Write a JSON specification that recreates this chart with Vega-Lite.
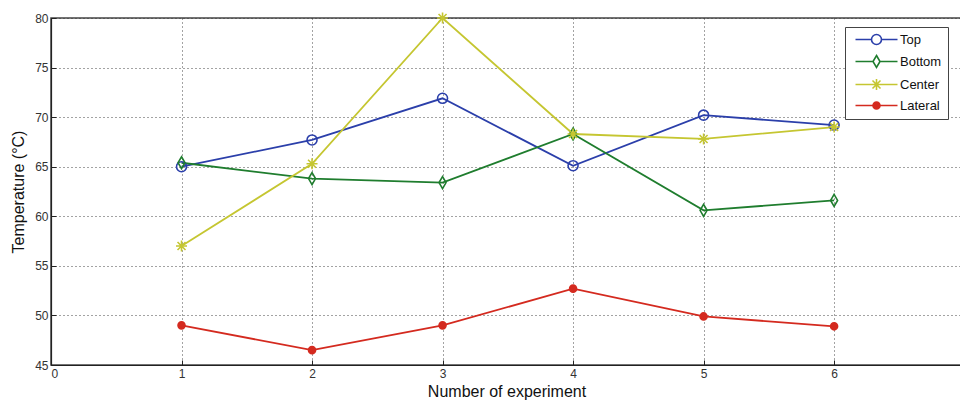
{
  "$schema": "https://vega.github.io/schema/vega-lite/v6.json",
  "autosize": "none",
  "width": 911,
  "height": 347,
  "padding": {"left": 51, "top": 18, "right": 0, "bottom": 35},
  "background": "white",
  "config": {
    "font": "Liberation Sans",
    "view": {"stroke": "#444", "strokeWidth": 1.5},
    "axis": {
      "domainColor": "#222",
      "domainWidth": 1.2,
      "tickColor": "#222",
      "tickSize": -5,
      "labelPadding": 8,
      "labelFont": "Liberation Sans",
      "labelFontSize": 12,
      "labelColor": "#333",
      "titleFont": "Liberation Sans",
      "titleFontWeight": "normal",
      "titleColor": "#111",
      "gridColor": "#333",
      "gridDash": [1, 3],
      "gridOpacity": 0.9,
      "gridWidth": 1
    }
  },
  "data": {
    "values": [
      {"exp": 1, "temp": 65.0, "series": "Top"},
      {"exp": 2, "temp": 67.7, "series": "Top"},
      {"exp": 3, "temp": 71.9, "series": "Top"},
      {"exp": 4, "temp": 65.1, "series": "Top"},
      {"exp": 5, "temp": 70.2, "series": "Top"},
      {"exp": 6, "temp": 69.2, "series": "Top"},
      {"exp": 1, "temp": 65.4, "series": "Bottom"},
      {"exp": 2, "temp": 63.8, "series": "Bottom"},
      {"exp": 3, "temp": 63.4, "series": "Bottom"},
      {"exp": 4, "temp": 68.3, "series": "Bottom"},
      {"exp": 5, "temp": 60.6, "series": "Bottom"},
      {"exp": 6, "temp": 61.6, "series": "Bottom"},
      {"exp": 1, "temp": 57.0, "series": "Center"},
      {"exp": 2, "temp": 65.3, "series": "Center"},
      {"exp": 3, "temp": 80.0, "series": "Center"},
      {"exp": 4, "temp": 68.3, "series": "Center"},
      {"exp": 5, "temp": 67.8, "series": "Center"},
      {"exp": 6, "temp": 69.0, "series": "Center"},
      {"exp": 1, "temp": 49.0, "series": "Lateral"},
      {"exp": 2, "temp": 46.5, "series": "Lateral"},
      {"exp": 3, "temp": 49.0, "series": "Lateral"},
      {"exp": 4, "temp": 52.7, "series": "Lateral"},
      {"exp": 5, "temp": 49.9, "series": "Lateral"},
      {"exp": 6, "temp": 48.9, "series": "Lateral"}
    ]
  },
  "encoding": {
    "x": {
      "field": "exp",
      "type": "quantitative",
      "scale": {"domain": [0, 6.98], "nice": false, "zero": false},
      "axis": {"values": [0, 1, 2, 3, 4, 5, 6], "title": "Number of experiment", "titleFontSize": 16, "titlePadding": 4}
    },
    "y": {
      "field": "temp",
      "type": "quantitative",
      "scale": {"domain": [45, 80], "nice": false, "zero": false},
      "axis": {"values": [45, 50, 55, 60, 65, 70, 75, 80], "title": "Temperature (°C)", "titleFontSize": 16, "titlePadding": 8}
    },
    "color": {
      "field": "series",
      "type": "nominal",
      "scale": {"domain": ["Top", "Bottom", "Center", "Lateral"], "range": ["#2b3faa", "#1f7d2e", "#c5c631", "#d42a1f"]},
      "legend": {
        "title": null,
        "orient": "none",
        "legendX": 794,
        "legendY": 9,
        "padding": 6,
        "strokeColor": "#444",
        "fillColor": "white",
        "labelFontSize": 13,
        "labelColor": "#111",
        "labelFont": "Liberation Sans",
        "symbolSize": 100,
        "symbolStrokeWidth": 1.6,
        "symbolOffset": 19,
        "labelOffset": 17,
        "rowPadding": 4,
        "symbolType": "M-4.2,0L4.2,0",
        "encode": {
          "symbols": {
            "update": {
              "shape": {"signal": "datum.value === 'Top' ? 'M-4.2,0L-1,0M1,0L4.2,0M1,0A1,1 0 1,1 -1,0A1,1 0 1,1 1,0Z' : datum.value === 'Bottom' ? 'M-4.2,0L-0.7,0M0.7,0L4.2,0M0,-1.2L0.7,0L0,1.2L-0.7,0Z' : datum.value === 'Center' ? 'M-4.2,0L4.2,0M0,-1.1L0,1.1M-0.8,-0.8L0.8,0.8M-0.8,0.8L0.8,-0.8' : 'M-4.2,0L4.2,0M0.7,0A0.7,0.7 0 1,1 -0.7,0A0.7,0.7 0 1,1 0.7,0Z'"},
              "fill": {"signal": "datum.value === 'Lateral' ? '#d42a1f' : 'transparent'"}
            }
          }
        }
      }
    }
  },
  "layer": [
    {
      "mark": {"type": "line", "strokeWidth": 1.8}
    },
    {
      "transform": [{"filter": "datum.series === 'Top'"}],
      "mark": {"type": "point", "filled": false, "size": 100, "strokeWidth": 1.6, "opacity": 1, "shape": "M1,0A1,1 0 1,1 -1,0A1,1 0 1,1 1,0Z"}
    },
    {
      "transform": [{"filter": "datum.series === 'Bottom'"}],
      "mark": {"type": "point", "filled": false, "size": 100, "strokeWidth": 1.6, "opacity": 1, "shape": "M0,-1.2L0.7,0L0,1.2L-0.7,0Z"}
    },
    {
      "transform": [{"filter": "datum.series === 'Center'"}],
      "mark": {"type": "point", "filled": false, "size": 100, "strokeWidth": 1.6, "opacity": 1, "shape": "M0,-1.1L0,1.1M-0.8,-0.8L0.8,0.8M-0.8,0.8L0.8,-0.8M-1.1,0L1.1,0"}
    },
    {
      "transform": [{"filter": "datum.series === 'Lateral'"}],
      "mark": {"type": "point", "filled": false, "fill": "#d42a1f", "fillOpacity": 1, "size": 100, "strokeWidth": 1.6, "opacity": 1, "shape": "M0.7,0A0.7,0.7 0 1,1 -0.7,0A0.7,0.7 0 1,1 0.7,0Z"}
    }
  ]
}
